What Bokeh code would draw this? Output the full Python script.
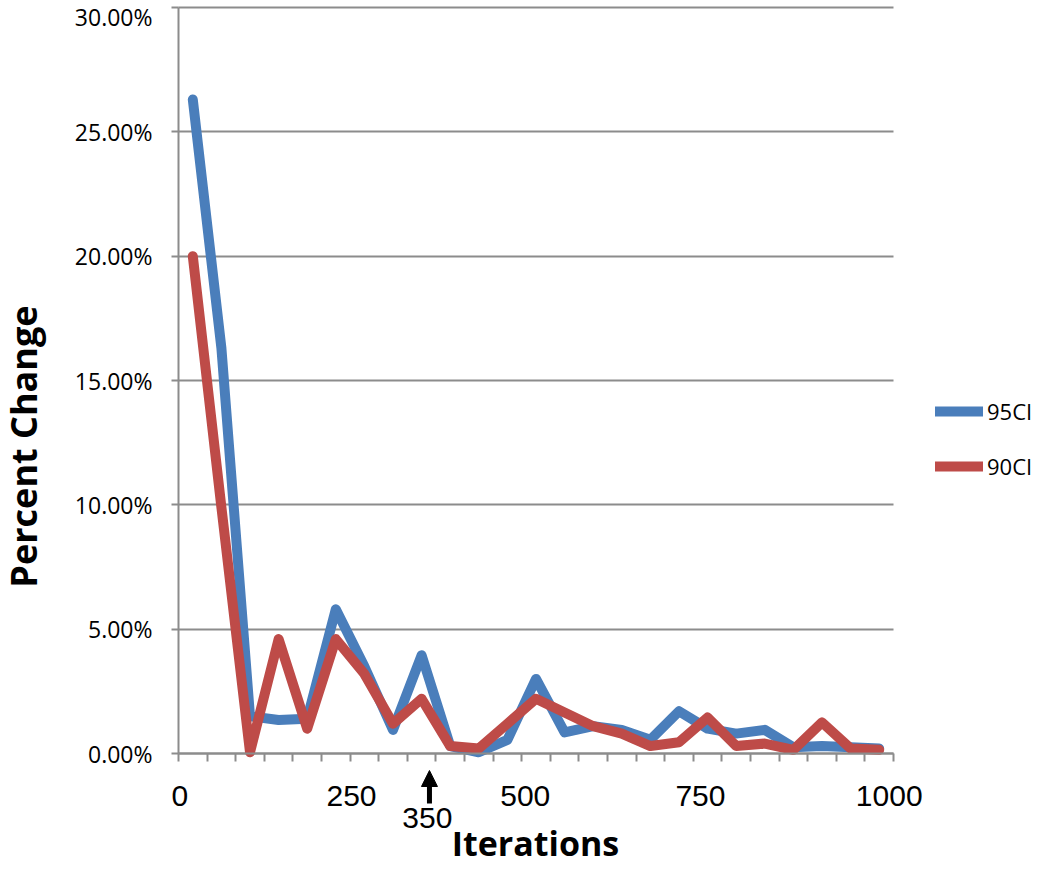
import math
from bokeh.plotting import figure
from bokeh.models import (Range1d, FixedTicker, PrintfTickFormatter, Label, Arrow,
                          NormalHead, Legend)
from bokeh.embed import file_html
from bokeh.resources import INLINE

# ---------------- data ----------------
ITERATIONS = [40, 80, 120, 160, 200, 240, 280, 320, 360, 400, 440, 480, 520,
              560, 600, 640, 680, 720, 760, 800, 840, 880, 920, 960, 1000]
CI95 = [26.3, 16.3, 1.5, 1.35, 1.4, 5.8, 3.5, 0.95, 3.95, 0.3, 0.05, 0.55, 3.0,
        0.85, 1.1, 0.95, 0.55, 1.7, 1.0, 0.8, 0.95, 0.25, 0.3, 0.25, 0.2]
CI90 = [20.0, 9.9, 0.05, 4.6, 1.0, 4.6, 3.2, 1.2, 2.2, 0.3, 0.2, 1.2, 2.2,
        1.65, 1.1, 0.8, 0.3, 0.45, 1.45, 0.3, 0.4, 0.15, 1.25, 0.2, 0.15]
SERIES_NAMES = ["95CI", "90CI"]
X_TICK_LABELS = ["0", "250", "500", "750", "1000"]
Y_TICKS = [0, 5, 10, 15, 20, 25, 30]
MARKED_ITERATION_LABEL = "350"
X_TITLE = "Iterations"
Y_TITLE = "Percent Change"

# ---------------- layout ----------------
W, H = 1034, 867
X_LO, X_HI = 20, 1020          # data extent of the plotting area
Y_LO, Y_HI = 0, 30
PX_LEFT, PX_RIGHT = 178, 893   # pixel positions of plotting area
PX_TOP, PX_BOTTOM = 7, 753
sx = (PX_RIGHT - PX_LEFT) / (X_HI - X_LO)
sy = (PX_BOTTOM - PX_TOP) / (Y_HI - Y_LO)
x_range = Range1d(X_LO - PX_LEFT / sx, X_HI + (W - PX_RIGHT) / sx)
y_range = Range1d(Y_LO - (H - PX_BOTTOM) / sy, Y_HI + PX_TOP / sy)


def dx(px):
    return X_LO + (px - PX_LEFT) / sx


def dy(py):
    return Y_LO + (PX_BOTTOM - py) / sy


X_TICK_LABEL_POS = [22, 262, 505, 750, 1014]
X_MINOR = [X_LO + 40 * k for k in range(26)]
ARROW_X = 371

BLUE = "#4A7EBB"
RED = "#BE4B48"
GRID = "#8C8C8C"

p = figure(width=W, height=H, output_backend="svg", toolbar_location=None,
           x_range=x_range, y_range=y_range,
           min_border=0, min_border_left=0, min_border_right=0,
           min_border_top=0, min_border_bottom=0)
p.outline_line_color = None
p.background_fill_color = "white"
p.border_fill_color = "white"

r1 = p.line(ITERATIONS, CI95, line_width=10, line_color=BLUE,
            line_join="round", line_cap="round")
r2 = p.line(ITERATIONS, CI90, line_width=10, line_color=RED,
            line_join="round", line_cap="round")

# grid
p.xgrid.visible = False
p.ygrid.grid_line_color = GRID
p.ygrid.grid_line_width = 2
p.ygrid.ticker = FixedTicker(ticks=Y_TICKS)
p.ygrid.bounds = (Y_LO, Y_HI)
p.ygrid.cross_bounds = (X_LO, X_HI)

# y axis
ya = p.yaxis[0]
ya.fixed_location = X_LO
ya.bounds = (Y_LO, Y_HI)
ya.ticker = FixedTicker(ticks=Y_TICKS)
ya.formatter = PrintfTickFormatter(format="%.2f%%")
ya.axis_line_color = GRID
ya.axis_line_width = 2
ya.major_tick_line_color = GRID
ya.major_tick_line_width = 2
ya.major_tick_out = 7
ya.major_tick_in = 0
ya.minor_tick_line_color = None
ya.major_label_text_font = "Open Sans"
ya.major_label_text_font_size = "23px"
ya.major_label_text_color = "black"
ya.major_label_standoff = 19

# x axis
xa = p.xaxis[0]
xa.fixed_location = Y_LO
xa.bounds = (X_LO, X_HI)
xa.ticker = FixedTicker(ticks=X_TICK_LABEL_POS, minor_ticks=X_MINOR)
xa.major_label_overrides = {pos: lab for pos, lab in zip(X_TICK_LABEL_POS, X_TICK_LABELS)}
xa.axis_line_color = GRID
xa.axis_line_width = 2
xa.major_tick_line_color = None
xa.major_tick_out = 0
xa.major_tick_in = 0
xa.minor_tick_line_color = GRID
xa.minor_tick_line_width = 2
xa.minor_tick_out = 8
xa.minor_tick_in = 0
xa.major_label_text_font = "Liberation Sans"
xa.major_label_text_font_size = "30px"
xa.major_label_text_color = "black"
xa.major_label_standoff = 24

# titles
p.add_layout(Label(x=dx(23), y=dy(446), text=Y_TITLE, angle=math.pi / 2,
                   text_font="Open Sans", text_font_style="bold",
                   text_font_size="36px", text_color="black",
                   text_align="center", text_baseline="middle"))
p.add_layout(Label(x=dx(535), y=dy(842), text=X_TITLE,
                   text_font="Open Sans", text_font_style="bold",
                   text_font_size="34px", text_color="black",
                   text_align="center", text_baseline="middle"))

# arrow + "350"
p.add_layout(Arrow(end=NormalHead(size=16, fill_color="black", line_color="black"),
                   x_start=ARROW_X, y_start=dy(803), x_end=ARROW_X, y_end=dy(770),
                   line_width=5, line_color="black"))
p.add_layout(Label(x=ARROW_X - 3, y=dy(817), text=MARKED_ITERATION_LABEL,
                   text_font="Liberation Sans", text_font_size="30px",
                   text_color="black", text_align="center", text_baseline="middle"))

legend = Legend(items=[(SERIES_NAMES[0], [r1]), (SERIES_NAMES[1], [r2])],
                location=(935, H - 481), orientation="vertical",
                glyph_width=48, glyph_height=30, label_height=30,
                label_standoff=4, spacing=25, margin=0, padding=0,
                border_line_color=None, background_fill_alpha=0,
                label_text_font="Open Sans", label_text_font_size="22px",
                label_text_color="black")
p.add_layout(legend, "center")

open("out.html", "w").write(file_html(p, INLINE))
